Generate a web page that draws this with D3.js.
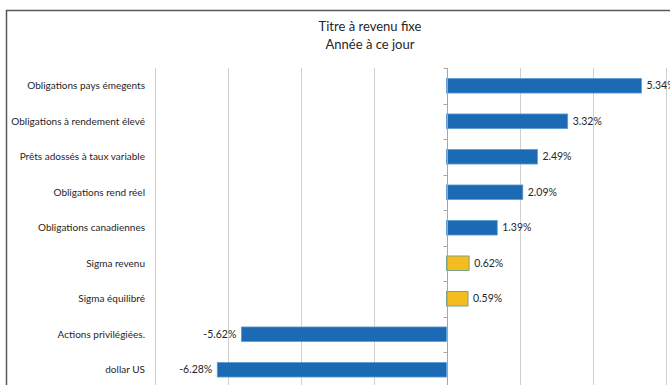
<!DOCTYPE html>
<html><head><meta charset="utf-8">
<script src="https://cdn.jsdelivr.net/npm/d3@7"></script>
<style>body{margin:0;background:#fff}svg{display:block}</style>
</head><body>
<svg id="c" width="670" height="385"></svg>
<script>
const categories = ["Obligations pays émegents","Obligations à rendement élevé","Prêts adossés à taux variable","Obligations rend réel","Obligations canadiennes","Sigma revenu","Sigma équilibré","Actions privilégiées.","dollar US"];
const values = [5.34, 3.32, 2.49, 2.09, 1.39, 0.62, 0.59, -5.62, -6.28];
const highlighted = ["Sigma revenu","Sigma équilibré"];
const xTicks = [-8,-6,-4,-2,0,2,4,6,8];
const titleLines = ["Titre à revenu fixe","Année à ce jour"];

const svg = d3.select("#c");
const font = "Lato, 'Open Sans', sans-serif";
const x = d3.scaleLinear().domain([-8, 8]).range([154.5, 738.5]);
const y = d3.scaleBand().domain(categories).range([68, 387.5]).paddingInner(0.59).paddingOuter(0.295);

// frame
svg.append("path").attr("d","M6.5,390V10.5H700").attr("fill","none").attr("stroke","#595959").attr("stroke-width",1.5);

// title
svg.append("g").selectAll("text").data(titleLines).join("text")
  .attr("x",370).attr("y",(d,i)=>31+i*18).attr("text-anchor","middle")
  .attr("font-family",font).attr("font-size",13).attr("fill","#262626").text(d=>d);

// gridlines
svg.append("g").selectAll("line").data(xTicks.filter(d=>d!==0)).join("line")
  .attr("x1",d=>Math.round(x(d))+0.5).attr("x2",d=>Math.round(x(d))+0.5)
  .attr("y1",68).attr("y2",390).attr("stroke","#cfcfcf").attr("stroke-width",1);

// bars
svg.append("g").selectAll("rect").data(values).join("rect")
  .attr("x",d=>x(Math.min(0,d))).attr("width",d=>Math.abs(x(d)-x(0)))
  .attr("y",(d,i)=>y(categories[i])).attr("height",y.bandwidth())
  .attr("fill",(d,i)=>highlighted.includes(categories[i])?"#F5BC1F":"#1B6AB3")
  .attr("stroke",(d,i)=>highlighted.includes(categories[i])?"#5B9A8B":"#5A9BD5")
  .attr("stroke-width",0.8);

// zero axis
const zx = Math.round(x(0))+0.5;
svg.append("line").attr("x1",zx).attr("x2",zx).attr("y1",68).attr("y2",390).attr("stroke","#a6a6a6");
const bounds = d3.range(categories.length+1).map(i=>y.range()[0]+i*y.step());
svg.append("g").selectAll("line").data(bounds).join("line")
  .attr("x1",zx-4).attr("x2",zx).attr("y1",d=>Math.round(d)+0.5).attr("y2",d=>Math.round(d)+0.5)
  .attr("stroke","#a6a6a6");

// category labels
svg.append("g").selectAll("text").data(categories).join("text")
  .attr("x",145).attr("y",d=>y(d)+y.bandwidth()/2).attr("dy","0.35em")
  .attr("text-anchor","end").attr("font-family",font).attr("font-size",10).attr("fill","#262626").text(d=>d);

// value labels
svg.append("g").selectAll("text").data(values).join("text")
  .attr("x",d=>d>=0?x(d)+5:x(d)-5).attr("y",(d,i)=>y(categories[i])+y.bandwidth()/2).attr("dy","0.35em")
  .attr("text-anchor",d=>d>=0?"start":"end")
  .attr("font-family",font).attr("font-size",10.5).attr("fill","#262626")
  .text(d=>d.toFixed(2)+"%");
</script>
</body></html>
